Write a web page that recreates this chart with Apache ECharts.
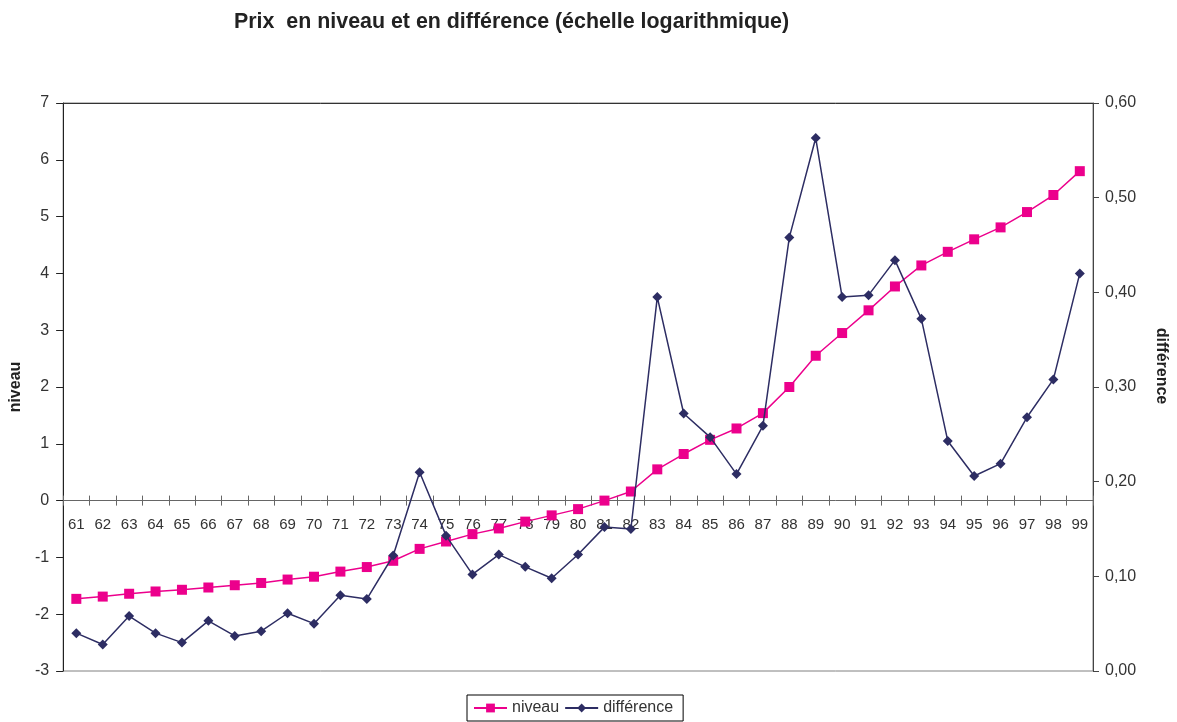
<!DOCTYPE html>
<html>
<head>
<meta charset="utf-8">
<title>Prix en niveau et en différence</title>
<script src="https://cdn.jsdelivr.net/npm/echarts@6/dist/echarts.min.js"></script>
<style>
  html, body { margin: 0; padding: 0; background: #fff; }
  #chart { width: 1177px; height: 722px; }
</style>
</head>
<body>
<div id="chart"></div>
<script>
// Years 1961–1999 (two-digit labels)
const years = ['61','62','63','64','65','66','67','68','69','70','71','72','73','74','75','76','77','78','79','80',
               '81','82','83','84','85','86','87','88','89','90','91','92','93','94','95','96','97','98','99'];

// Log price level (left axis)
const niveau = [-1.73, -1.69, -1.64, -1.60, -1.57, -1.53, -1.49, -1.45, -1.39, -1.34,
                -1.25, -1.17, -1.06, -0.85, -0.72, -0.59, -0.49, -0.37, -0.26, -0.15,
                 0.00,  0.16,  0.55,  0.82,  1.07,  1.27,  1.54,  2.00,  2.55,  2.95,
                 3.35,  3.77,  4.14,  4.38,  4.60,  4.81,  5.08,  5.38,  5.80];

// Yearly log difference (right axis)
const difference = [0.040, 0.028, 0.058, 0.040, 0.030, 0.053, 0.037, 0.042, 0.061, 0.050,
                    0.080, 0.076, 0.122, 0.210, 0.143, 0.102, 0.123, 0.110, 0.098, 0.123,
                    0.152, 0.150, 0.395, 0.272, 0.247, 0.208, 0.259, 0.458, 0.563, 0.395,
                    0.397, 0.434, 0.372, 0.243, 0.206, 0.219, 0.268, 0.308, 0.420];

// Left axis range
const LEVEL_MIN = -3, LEVEL_MAX = 7;

const FONT = "'Liberation Sans', Arial, sans-serif";
const PINK = '#EC008C';
const NAVY = '#2D2D63';
const TXT = '#333333';

const GRID = { left: 62, right: 84, top: 103, bottom: 51 };
const CHART_H = 722;
const gridHeight = CHART_H - GRID.top - GRID.bottom;
// the category axis sits on the zero of the left axis: shift it up from the grid bottom
const zeroOffset = -gridHeight * (0 - LEVEL_MIN) / (LEVEL_MAX - LEVEL_MIN);

const chart = echarts.init(document.getElementById('chart'), null, { renderer: 'canvas' });

chart.setOption({
  animation: false,
  backgroundColor: '#ffffff',
  textStyle: { fontFamily: FONT },
  title: {
    text: 'Prix  en niveau et en différence (échelle logarithmique)',
    left: 234,
    top: 12,
    padding: 0,
    textStyle: { fontFamily: FONT, fontSize: 21.4, fontWeight: 'bold', color: '#222' }
  },
  legend: {
    data: ['niveau', 'différence'],
    left: 467,
    top: 695,
    orient: 'horizontal',
    padding: [5, 10, 5, 6],
    itemGap: 5,
    itemWidth: 33,
    itemHeight: 11,
    borderColor: '#000',
    borderWidth: 1,
    textStyle: { fontFamily: FONT, fontSize: 16, color: TXT }
  },
  grid: {
    left: GRID.left, right: GRID.right, top: GRID.top, bottom: GRID.bottom,
    show: true,
    borderColor: '#808080',
    borderWidth: 1,
    containLabel: false
  },
  xAxis: [
    {
      // main category axis, crossing the left axis at zero
      type: 'category',
      data: years,
      boundaryGap: true,
      position: 'bottom',
      offset: zeroOffset,
      axisLine: { onZero: false, lineStyle: { color: '#666', width: 1 } },
      axisTick: { show: true, length: 5, inside: false, lineStyle: { color: '#666' } },
      axisLabel: { margin: 17, fontSize: 15, color: TXT, fontFamily: FONT, interval: 0 },
      splitLine: { show: false }
    },
    {
      // upper half of the crossing tick marks
      type: 'category',
      data: years,
      boundaryGap: true,
      position: 'bottom',
      offset: zeroOffset,
      axisLine: { show: false, onZero: false },
      axisTick: { show: true, length: 5, inside: true, lineStyle: { color: '#666' } },
      axisLabel: { show: false },
      splitLine: { show: false }
    },
    {
      // top frame line
      type: 'category',
      data: years,
      position: 'top',
      axisLine: { show: true, onZero: false, lineStyle: { color: '#333', width: 1 } },
      axisTick: { show: false },
      axisLabel: { show: false },
      splitLine: { show: false }
    }
  ],
  yAxis: [
    {
      type: 'value',
      name: 'niveau',
      nameLocation: 'middle',
      nameGap: 38,
      nameRotate: 90,
      nameTextStyle: { fontFamily: FONT, fontSize: 16, fontWeight: 'bold', color: '#222' },
      min: LEVEL_MIN, max: LEVEL_MAX, interval: 1,
      position: 'left',
      axisLine: { show: true, onZero: false, lineStyle: { color: '#222', width: 1 } },
      axisTick: { show: true, length: 7, lineStyle: { color: '#222' } },
      axisLabel: { margin: 14, fontSize: 16, color: TXT, fontFamily: FONT },
      splitLine: { show: false }
    },
    {
      type: 'value',
      name: 'différence',
      nameLocation: 'middle',
      nameGap: 60,
      nameRotate: -90,
      nameTextStyle: {
        fontFamily: FONT, fontSize: 16, fontWeight: 'bold', color: '#222',
        padding: [0, 42, 0, 0]
      },
      min: 0, max: 0.6, interval: 0.1,
      position: 'right',
      axisLine: { show: true, onZero: false, lineStyle: { color: '#444', width: 1 } },
      axisTick: { show: true, length: 6, lineStyle: { color: '#444' } },
      axisLabel: {
        margin: 12, fontSize: 16, color: TXT, fontFamily: FONT,
        formatter: v => v.toFixed(2).replace('.', ',')
      },
      splitLine: { show: false }
    }
  ],
  series: [
    {
      name: 'niveau',
      type: 'line',
      xAxisIndex: 0,
      yAxisIndex: 0,
      data: niveau,
      symbol: 'rect',
      symbolSize: 10,
      showAllSymbol: true,
      lineStyle: { color: PINK, width: 1.5 },
      itemStyle: { color: PINK },
      z: 2
    },
    {
      name: 'différence',
      type: 'line',
      xAxisIndex: 0,
      yAxisIndex: 1,
      data: difference,
      symbol: 'diamond',
      symbolSize: 10,
      showAllSymbol: true,
      lineStyle: { color: NAVY, width: 1.5 },
      itemStyle: { color: NAVY },
      z: 3
    }
  ]
});
</script>
</body>
</html>
